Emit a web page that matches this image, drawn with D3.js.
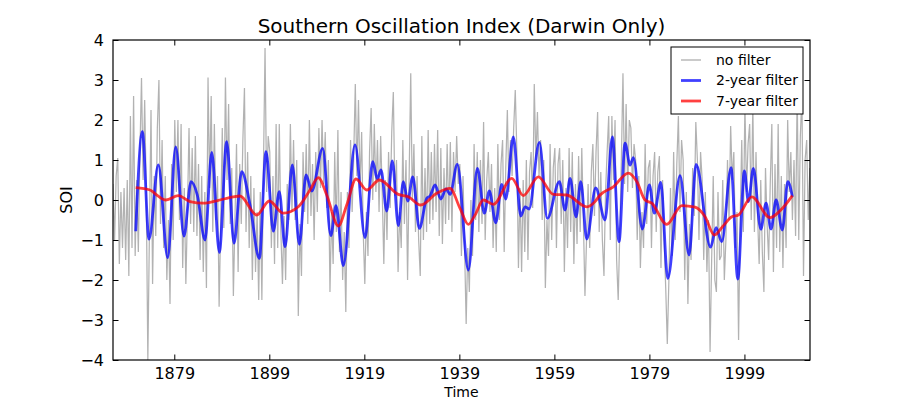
<!DOCTYPE html>
<html>
<head>
<meta charset="utf-8">
<script src="https://cdn.jsdelivr.net/npm/d3@7"></script>
<style>
  html, body { margin: 0; padding: 0; background: #fff; }
  svg { display: block; font-family: "DejaVu Sans", sans-serif; }
</style>
</head>
<body>
<svg id="chart" width="900" height="400"></svg>
<script>
// ---------- data ----------
const title = "Southern Oscillation Index (Darwin Only)";
const xLabel = "Time";
const yLabel = "SOI";
const xTicks = [1879, 1899, 1919, 1939, 1959, 1979, 1999];
const yTicks = [-4, -3, -2, -1, 0, 1, 2, 3, 4];
const xDomain = [1866.1, 2012.8];
const yDomain = [-4, 4];
const seriesNames = ["no filter", "2-year filter", "7-year filter"];

// raw series, three readings per year from 1866.1 (one group per year)
const rawStart = 1866.1;
const rawStep = 1 / 3;
const rawValues = [
  0.4, -1.0, 0.6,   1.05, -1.6, 0.2,   -1.2, 0.3, -1.5,   0.5, -1.9, 2.1,   -1.2, 2.6, -1.4,
  0.5, -1.3, 1.2,   3.05, 0.5, 2.5,   0.2, -4.0, -0.8,   2.25, -2.1, 0.6,   -0.9, 1.8, 3.0,
  -0.6, 1.5, -1.2,   0.6, -2.0, -0.5,   -2.6, 0.9, -1.0,   2.0, 0.2, 2.0,   -0.5, 1.9, -1.7,
  0.3, -2.1, -0.3,   1.8, -0.6, 1.3,   -0.8, 1.6, -0.9,   0.9, -1.5, 0.6,   -1.8, 0.2, -2.2,
  3.06, 0.3, 2.6,   -0.8, 1.9, -0.5,   0.6, -2.67, -0.6,   1.8, -0.7, 3.06,   0.5, 2.4, -0.6,
  0.8, -2.4, -0.5,   1.4, -1.8, 0.9,   -0.6, 1.5, 2.8,   -0.8, 1.2, -1.2,   0.6, -2.0, 0.3,
  -1.8, -0.3, -2.5,   0.2, -2.5, 0.8,   3.8, 0.2, 1.6,   1.2, -1.2, 0.6,   -1.6, 1.9, -1.2,
  1.9, -0.8, -2.1,   -0.4, -2.0, 0.4,   -0.5, 1.9, -0.3,   1.5, -0.5, 1.0,   -2.9, -0.6, -1.9,
  1.2, -0.3, 1.4,   -0.6, 2.0, -0.4,   0.9, -1.0, 1.2,   -0.3, 1.8, 0.3,   2.0, 0.4, 1.7,
  -0.2, 1.0, -2.3,   -0.3, -1.6, 1.2,   -0.8, 1.75, -1.3,   0.2, -2.0, -0.8,   -2.8, 0.2, -1.2,
  1.5, -0.3, 1.1,   2.9, 0.6, 2.5,   0.3, 1.7, -0.8,   -2.1, -0.3, -1.4,   1.2, 2.3, 0.0,
  1.9, 0.2, 1.5,   -0.3, 1.6, 0.2,   -1.6, 0.5, -1.0,   1.2, -0.2, 1.7,   2.7, 0.1, 1.0,
  -1.8, -0.3, -1.2,   1.5, -0.6, 1.0,   -2.0, 0.6, 3.17,   0.0, 1.4, -0.8,   0.6, -1.0, -1.9,
  1.6, -1.0, 0.8,   -0.8, 1.75, -0.6,   1.2, -0.5, 1.4,   -0.3, 1.75, -0.9,   1.3, -1.1, 0.8,
  -0.6, 1.4, -0.5,   1.45, -0.8, 1.2,   0.2, 1.6, 0.4,   0.9, -1.4, 0.6,   -1.2, -3.1, -1.2,
  -2.3, 0.0, -1.4,   1.4, -0.5, 1.2,   -0.8, 1.0, -0.6,   1.95, -1.0, 0.5,   1.2, -0.3, 0.9,
  -1.2, 0.3, -1.3,   1.4, -0.5, 0.9,   1.5, -1.3, 0.8,   2.25, 0.2, 1.5,   0.6, 1.8, 2.75,
  1.2, -1.7, 0.3,   -1.8, 0.5, -1.3,   1.0, -1.5, 0.7,   1.2, -0.2, 2.9,   1.0, 2.2, 0.6,
  1.5, -0.5, 1.0,   -2.2, -0.5, -1.4,   1.4, -1.0, 0.8,   1.3, -1.2, 0.9,   1.3, -0.6, 1.0,
  -1.8, 0.3, -1.2,   1.3, -0.8, 1.2,   -1.6, 0.4, -1.1,   1.1, -0.8, 1.3,   -0.5, -2.4, -1.0,
  0.4, -1.2, 0.7,   1.4, -0.4, 1.2,   2.2, -0.8, 0.7,   -1.0, -1.9, 0.2,   1.2, 2.1, -1.0,
  2.1, 0.5, 2.0,   -1.5, -2.5, -0.8,   1.0, 3.17, 0.4,   2.4, 0.2, 2.0,   1.8, 0.3, 1.4,
  1.0, -1.0, 0.6,   -1.7, -0.3, -1.2,   1.4, -0.6, 0.8,   1.0, -1.2, 0.6,   1.2, -0.8, 0.7,
  1.1, -1.7, 0.5,   -1.0, -2.2, -3.6,   -2.0, 0.3, -1.4,   1.2, -1.0, 0.9,   2.1, -0.3, 1.5,
  1.0, -2.0, 0.2,   -2.6, -0.6, -1.5,   0.8, -0.4, 1.95,   1.0, -1.0, 1.2,   0.5, -1.5, 0.2,
  -1.8, -0.5, -3.8,   -1.5, 0.6, -2.0,   -2.3, 0.2, -1.5,   -1.4, 0.5, -2.0,   -1.0, 1.0, -0.5,
  1.85, 0.5, 1.2,   -1.2, -0.3, -3.5,   -0.5, 1.5, -0.8,   2.4, 0.2, 1.4,   1.9, -0.5, 2.4,
  -0.8, 1.2, -0.4,   -1.6, 0.5, -1.3,   -2.3, 0.8, -0.6,   -1.5, 0.4, 1.9,   -1.8, 0.9, -1.2,
  1.9, -1.3, 0.6,   -1.7, 0.4, -1.2,   2.0, 0.2, 1.2,   -0.5, 1.0, -0.9,   2.75, -1.0, 1.6,
  2.6, -1.9, 1.0,   1.5, -0.5, 0.8
];

// 2-year filter (turning points)
const twoYearTimes = [
  1870.88, 1872.27, 1873.68, 1875.64, 1877.61, 1879.30, 1881.04, 1882.52, 1883.84, 1885.47,
  1886.88, 1888.48, 1890.03, 1891.57, 1893.19, 1894.94, 1896.90, 1898.31, 1899.84, 1901.10,
  1902.31, 1903.84, 1905.32, 1906.73, 1907.93, 1910.24, 1911.93, 1913.04, 1914.58, 1917.04,
  1919.15, 1920.77, 1921.73, 1922.51, 1923.71, 1924.89, 1926.15, 1927.21, 1928.14, 1929.19,
  1930.58, 1932.13, 1932.83, 1933.88, 1935.08, 1936.20, 1937.04, 1938.57, 1940.89, 1942.79,
  1944.26, 1945.31, 1946.66, 1947.92, 1948.76, 1950.36, 1951.92, 1952.83, 1953.67, 1955.84,
  1957.52, 1960.05, 1961.24, 1962.30, 1963.56, 1964.55, 1965.81, 1967.70, 1969.67, 1971.20,
  1972.61, 1973.87, 1974.93, 1975.62, 1977.52, 1978.99, 1980.04, 1981.39, 1982.86, 1985.45,
  1987.35, 1988.82, 1991.87, 1993.03, 1994.23, 1996.19, 1997.60, 1998.99, 1999.83, 2000.88,
  2002.44, 2003.55, 2004.60, 2005.66, 2006.98, 2008.12, 2009.09
];
const twoYearValues = [
  -0.78, 1.71, -0.98, 0.875, -1.44, 1.33, -0.90, 0.46, 0.125, -1.00,
  1.19, -1.31, 1.46, -1.08, 0.71, -0.125, -1.46, 1.21, -0.78, 0.21,
  -1.17, 0.875, -1.11, 0.625, 0.225, 1.29, -0.89, -0.14, -1.64, 1.375,
  -0.94, 0.96, 0.525, 0.75, -0.275, 0.975, -0.64, 0.46, -0.025, 0.58,
  -0.71, 0.04, 0.10, 0.375, 0.025, 0.275, 0.14, 0.89, -1.75, 0.79,
  -0.33, 0.225, -0.57, 0.39, 0.025, 1.58, -0.40, -0.17, -0.225, 1.44,
  -0.46, 0.46, -0.25, 0.54, -0.42, 0.46, -0.975, 0.30, -0.50, 1.58,
  -1.04, 1.42, 0.875, 1.06, -0.725, 0.375, -0.33, 0.44, -1.96, 0.61,
  -1.375, 0.89, -1.18, -0.69, -1.04, 0.81, -1.975, 0.725, -0.04, 0.79,
  -0.73, -0.08, -0.725, 0.0, -0.75, 0.46, 0.08
];

// 7-year filter
const sevenYearTimes = [
  1870.88, 1873.89, 1875.30, 1877.26, 1879.85, 1882.31, 1885.11, 1887.93, 1891.42, 1892.83,
  1896.35, 1899.00, 1901.95, 1905.10, 1907.57, 1909.32, 1911.08, 1913.53, 1915.29, 1917.25,
  1919.50, 1922.16, 1926.15, 1928.26, 1930.87, 1934.24, 1937.04, 1939.14, 1940.89, 1942.30,
  1944.05, 1946.15, 1950.02, 1952.47, 1955.62, 1958.78, 1961.60, 1965.81, 1967.56, 1968.61,
  1971.41, 1974.57, 1976.34, 1978.09, 1979.50, 1982.65, 1985.81, 1988.61, 1990.72, 1992.67,
  1994.57, 1996.33, 1997.72, 2000.54, 2004.39, 2006.50, 2009.09
];
const sevenYearValues = [
  0.31, 0.25, 0.125, 0.0, 0.11, -0.04, -0.08, -0.02, 0.08, 0.10,
  -0.375, -0.025, -0.33, -0.17, 0.25, 0.56, 0.125, -0.65, -0.125, 0.525,
  0.25, 0.50, 0.14, 0.08, -0.125, 0.17, 0.29, -0.21, -0.61, -0.375,
  0.0, -0.11, 0.54, 0.11, 0.58, 0.14, 0.125, -0.17, -0.04, 0.125,
  0.33, 0.67, 0.46, 0.0, -0.08, -0.61, -0.14, -0.18, -0.42, -0.875,
  -0.64, -0.42, -0.375, 0.08, -0.44, -0.27, 0.11
];

// ---------- layout ----------
const svg = d3.select("#chart");
const margin = {left: 113, top: 40, right: 90, bottom: 40};
const W = 900, H = 400;
const x = d3.scaleLinear().domain(xDomain).range([margin.left, W - margin.right]);
const y = d3.scaleLinear().domain(yDomain).range([H - margin.bottom, margin.top]);

const rawData = rawValues.map((v, i) => ({t: rawStart + i * rawStep, v}));
const twoData = twoYearTimes.map((t, i) => ({t, v: twoYearValues[i]}));
const sevenData = sevenYearTimes.map((t, i) => ({t, v: sevenYearValues[i]}));

const colors = {raw: "#000000", two: "#0000ff", seven: "#ff0000"};

svg.append("defs").append("clipPath").attr("id", "clip")
  .append("rect").attr("x", x.range()[0]).attr("y", y.range()[1])
  .attr("width", x.range()[1] - x.range()[0]).attr("height", y.range()[0] - y.range()[1]);

const plot = svg.append("g").attr("clip-path", "url(#clip)");

const lineStraight = d3.line().x(d => x(d.t)).y(d => y(d.v));
const lineSmooth = d3.line().x(d => x(d.t)).y(d => y(d.v)).curve(d3.curveMonotoneX);

plot.append("path").datum(rawData).attr("d", lineStraight)
  .attr("fill", "none").attr("stroke", colors.raw).attr("stroke-opacity", 0.3)
  .attr("stroke-width", 1.25);
plot.append("path").datum(twoData).attr("d", lineSmooth)
  .attr("fill", "none").attr("stroke", colors.two).attr("stroke-opacity", 0.75)
  .attr("stroke-width", 2.8).attr("stroke-linejoin", "round");
plot.append("path").datum(sevenData).attr("d", lineSmooth)
  .attr("fill", "none").attr("stroke", colors.seven).attr("stroke-opacity", 0.75)
  .attr("stroke-width", 2.8).attr("stroke-linejoin", "round");

// ---------- axes ----------
const tickLen = 5.5;
const fontSize = 16;
const fmt = d => (d < 0 ? "\u2212" + Math.abs(d) : String(d));

const xAxisB = d3.axisBottom(x).tickValues(xTicks).tickSize(-tickLen).tickPadding(8).tickFormat(d3.format("d"));
const xAxisT = d3.axisTop(x).tickValues(xTicks).tickSize(-tickLen).tickFormat("");
const yAxisL = d3.axisLeft(y).tickValues(yTicks).tickSize(-tickLen).tickPadding(9).tickFormat(fmt);
const yAxisR = d3.axisRight(y).tickValues(yTicks).tickSize(-tickLen).tickFormat("");

function styleAxis(g) {
  g.select(".domain").remove();
  g.selectAll(".tick line").attr("stroke", "#000").attr("stroke-width", 1);
  g.selectAll(".tick text").attr("fill", "#000").attr("font-size", fontSize)
    .attr("font-family", "DejaVu Sans, sans-serif");
}
svg.append("g").attr("transform", `translate(0,${y.range()[0]})`).call(xAxisB).call(styleAxis);
svg.append("g").attr("transform", `translate(0,${y.range()[1]})`).call(xAxisT).call(styleAxis);
svg.append("g").attr("transform", `translate(${x.range()[0]},0)`).call(yAxisL).call(styleAxis);
svg.append("g").attr("transform", `translate(${x.range()[1]},0)`).call(yAxisR).call(styleAxis);

// frame
svg.append("rect").attr("x", x.range()[0]).attr("y", y.range()[1])
  .attr("width", x.range()[1] - x.range()[0]).attr("height", y.range()[0] - y.range()[1])
  .attr("fill", "none").attr("stroke", "#000").attr("stroke-width", 1.2);

// title and labels
const cx = (x.range()[0] + x.range()[1]) / 2;
svg.append("text").attr("x", cx).attr("y", 33).attr("text-anchor", "middle")
  .attr("font-size", 20).attr("fill", "#000").text(title);
svg.append("text").attr("x", cx).attr("y", 396.6).attr("text-anchor", "middle")
  .attr("font-size", 14).attr("fill", "#000").text(xLabel);
svg.append("text").attr("transform", `translate(72,${(y.range()[0] + y.range()[1]) / 2}) rotate(-90)`)
  .attr("text-anchor", "middle").attr("font-size", 16).attr("fill", "#000").text(yLabel);

// legend
const lg = svg.append("g");
lg.append("rect").attr("x", 671).attr("y", 47).attr("width", 132).attr("height", 67)
  .attr("fill", "#fff").attr("stroke", "#000").attr("stroke-width", 1);
const legendItems = [
  {name: seriesNames[0], color: colors.raw, op: 0.3, w: 1.4},
  {name: seriesNames[1], color: colors.two, op: 0.75, w: 2.8},
  {name: seriesNames[2], color: colors.seven, op: 0.75, w: 2.8}
];
legendItems.forEach((it, i) => {
  const yy = 60 + i * 20.5;
  lg.append("line").attr("x1", 681).attr("x2", 701).attr("y1", yy).attr("y2", yy)
    .attr("stroke", it.color).attr("stroke-opacity", it.op).attr("stroke-width", it.w);
  lg.append("text").attr("x", 716).attr("y", yy).attr("dy", "0.35em")
    .attr("font-size", 14).attr("fill", "#000").text(it.name);
});
</script>
</body>
</html>
